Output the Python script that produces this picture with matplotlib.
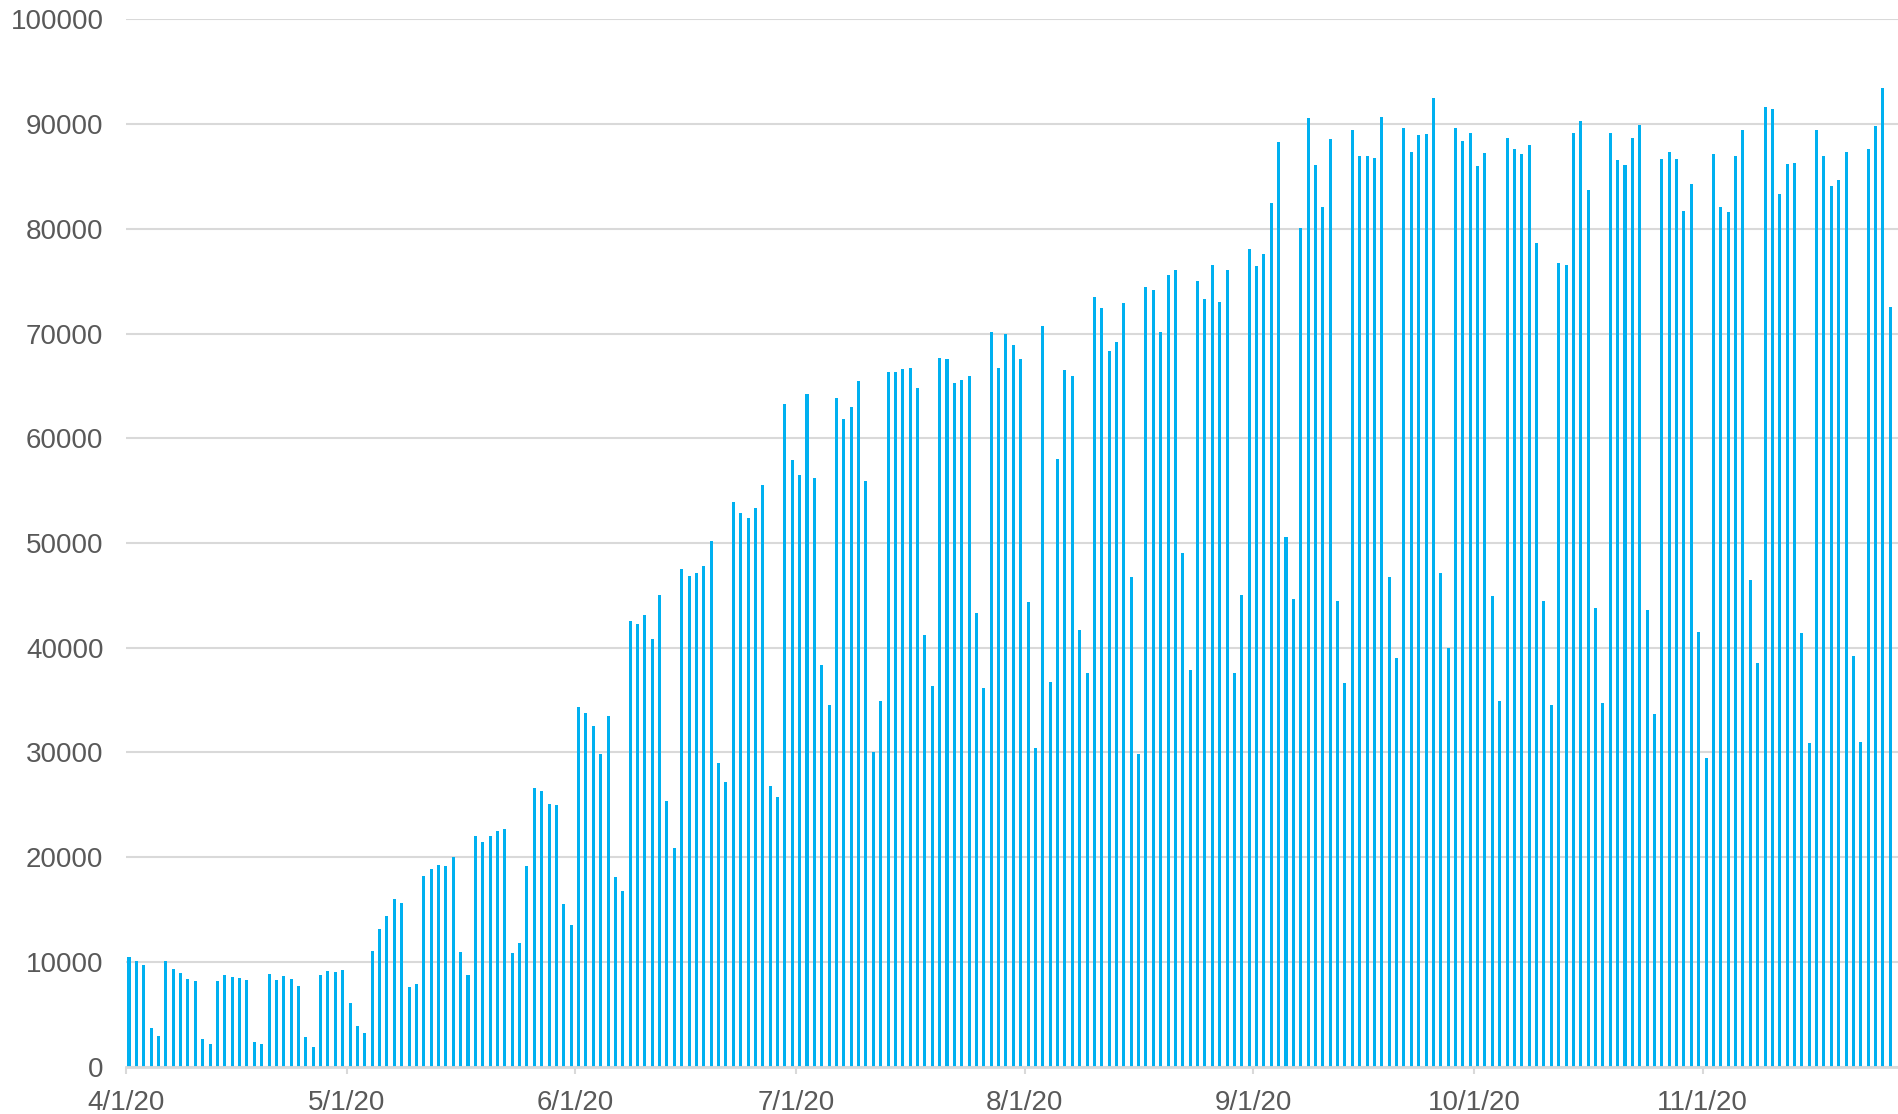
import numpy as np
import pandas as pd
import matplotlib
matplotlib.use("Agg")
import matplotlib.pyplot as plt
import matplotlib.dates as mdates

# daily values
april = [10480, 10100, 9680, 3640, 2940, 10100, 9270, 8980, 8370, 8150,
         2620, 2140, 8150, 8750, 8560, 8470, 8270, 2330, 2140, 8880,
         8270, 8660, 8370, 7730, 2840, 1820, 8750, 9170, 9070, 9230]
may = [6100, 3900, 3210, 11080, 13140, 14410, 15970, 15590, 7590, 7900,
       18160, 18890, 19270, 19170, 19970, 10980, 8700, 21970, 21490, 22060,
       22480, 22700, 10890, 11810, 19170, 26570, 26350, 25080, 24980, 15490, 13560]
june = [34300, 33780, 32480, 29800, 33480, 18060, 16760, 42590, 42290, 43110,
        40860, 45050, 25360, 20910, 47470, 46870, 47170, 47780, 50190, 28980,
        27130, 53870, 52870, 52400, 53350, 55550, 26780, 25750, 63280, 57970]
july = [56510, 64180, 56190, 38370, 34560, 63890, 61820, 63000, 65420, 55870,
        30070, 34870, 66370, 66310, 66630, 66690, 64780, 41210, 36370, 67680,
        67610, 65290, 65580, 65900, 43270, 36180, 70130, 66690, 70000, 68920, 67610]
august = [44350, 30460, 70760, 36760, 57980, 66550, 65960, 41690, 37590, 73450,
          72400, 68290, 69180, 72890, 46750, 29870, 74470, 74200, 70100, 75550,
          76040, 49050, 37880, 75060, 73280, 76570, 72990, 76040, 37590, 45040, 78080]
september = [76460, 77560, 82500, 88270, 50600, 44680, 80050, 90570, 86080, 82080,
             88600, 44490, 36650, 89470, 86980, 86980, 86800, 90720, 46750, 39020,
             89660, 87360, 88980, 89060, 92530, 47160, 40000, 89660, 88340, 89170]
october = [85960, 87230, 44980, 34940, 88680, 87660, 87110, 87960, 78680, 44470,
           34550, 76770, 76550, 89150, 90260, 83740, 43790, 34720, 89150, 86550,
           86130, 88680, 89870, 43570, 33700, 86640, 87320, 86640, 81740, 84260, 41490]
november = [29490, 87150, 82090, 81570, 86940, 89450, 46430, 38510, 91660, 91450,
            83280, 86170, 86260, 41400, 30890, 89450, 86940, 84090, 84680, 87360,
            39190, 30980, 87660, 89790, 93400, 72550]

start_date = "2020-04-01"
month_ticks = ["4/1/20", "5/1/20", "6/1/20", "7/1/20", "8/1/20",
               "9/1/20", "10/1/20", "11/1/20"]
y_ticks = list(range(0, 100001, 10000))

values = april + may + june + july + august + september + october + november
dates = pd.date_range(start_date, periods=len(values), freq="D")

BAR = "#00B0F0"
GRID = "#D9D9D9"
TEXT = "#595959"

plt.rcParams["font.family"] = ["Liberation Sans", "DejaVu Sans"]

fig = plt.figure(figsize=(18.98, 11.14), dpi=100)
ax = fig.add_axes([0.0662, 0.0426, 0.9338, 0.94])

x = mdates.date2num(dates)
ax.bar(x + 0.25, values, width=0.41, align="edge", color=BAR, zorder=3)

x0 = mdates.date2num(pd.Timestamp(start_date))
ax.set_xlim(x0, x0 + 240.5)
ax.set_ylim(0, 100000)

tick_pos = mdates.date2num(pd.to_datetime(month_ticks, format="%m/%d/%y"))
ax.set_xticks(tick_pos)
ax.set_xticklabels(month_ticks)
ax.set_yticks(y_ticks)
ax.set_yticklabels([str(v) for v in y_ticks])

ax.grid(axis="y", color=GRID, linewidth=1.5, zorder=0)
ax.set_axisbelow(True)
for side in ["top", "right", "left"]:
    ax.spines[side].set_visible(False)
ax.spines["bottom"].set_color(GRID)
ax.spines["bottom"].set_linewidth(2)
ax.spines["bottom"].set_zorder(4)

ax.tick_params(axis="x", length=5, width=1.5, color=GRID, labelsize=20,
               labelcolor=TEXT, pad=12)
ax.tick_params(axis="y", length=0, labelsize=20, labelcolor=TEXT, pad=16)

fig.savefig("out.png", dpi=100)
